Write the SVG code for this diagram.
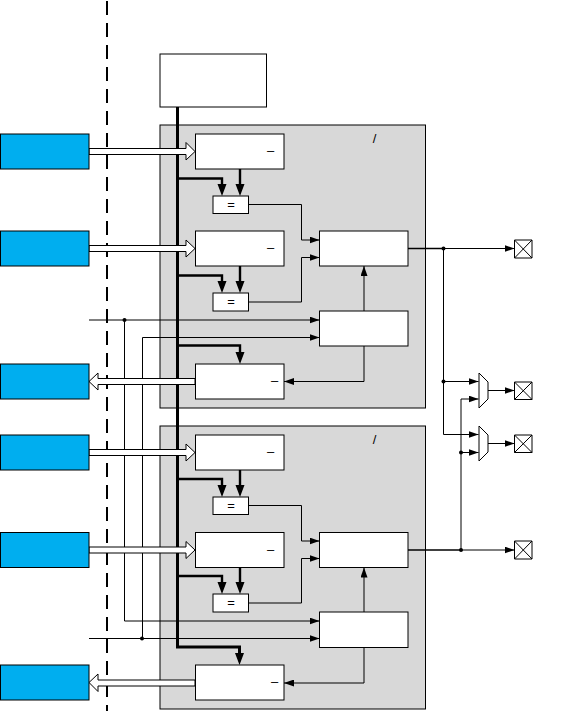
<svg xmlns="http://www.w3.org/2000/svg" width="576" height="711" viewBox="0 0 576 711">
<style>
.panel{fill:#d8d8d8;stroke:#000;stroke-width:1}
.box{fill:#fff;stroke:#000;stroke-width:1}
.blue{fill:#00aeef;stroke:#000;stroke-width:1}
.w{fill:none;stroke:#000;stroke-width:1}
.t{fill:none;stroke:#000;stroke-width:3}
.th{fill:none;stroke:#000;stroke-width:2.400}
.hollow{fill:#fff;stroke:#000;stroke-width:1}
.lbl{font-family:"Liberation Sans",Arial,sans-serif;font-size:13px;fill:#000;text-anchor:middle}
</style>
<defs>
<marker id="a" markerUnits="userSpaceOnUse" markerWidth="10" markerHeight="7" refX="10" refY="3.500" orient="auto"><path d="M0 0L10 3.500L0 7Z" fill="#000"/></marker>
</defs>
<g id="boundary"><line x1="107" y1="-21" x2="107" y2="711" stroke="#000" stroke-width="2" stroke-dasharray="14 8"/></g>
<g id="panel-1"><rect class="panel" x="160" y="125" width="265.500" height="283"/><text class="lbl" x="374.500" y="142.500">/</text></g>
<g id="panel-2"><rect class="panel" x="160" y="426" width="265.500" height="283"/><text class="lbl" x="374.500" y="444">/</text></g>
<g id="connectors">
<path class="t" d="M177.500 107V647H239.500V655"/>
<path class="th" d="M177.500 178.500H222V186M240 169V186M177.500 275.500H222V283M240 266V283M177.500 345.500H240V354M177.500 479H222V487M240 470V487M177.500 576H222V584M240 567.500V584"/>
<path fill="#000" d="M217.500 184h9l-4.500 12zM235.500 184h9l-4.500 12zM217.500 281h9l-4.500 12zM235.500 281h9l-4.500 12zM235.500 352h9l-4.500 12zM217.500 485h9l-4.500 12zM235.500 485h9l-4.500 12zM217.500 582h9l-4.500 12zM235.500 582h9l-4.500 12zM235 653h9l-4.500 12z"/>
<path class="w" marker-end="url(#a)" d="M248.500 204.500H301.500V240H319.500"/>
<path class="w" marker-end="url(#a)" d="M248.500 302H301.500V257.500H319.500"/>
<path class="w" marker-end="url(#a)" d="M248.500 505.500H301.500V541H319.500"/>
<path class="w" marker-end="url(#a)" d="M248.500 603H301.500V558.500H319.500"/>
<path class="w" marker-end="url(#a)" d="M89 320H319.500"/>
<path class="w" marker-end="url(#a)" d="M142.500 638V337.500H319.500"/>
<path class="w" marker-end="url(#a)" d="M124.500 320V621H319.500"/>
<path class="w" marker-end="url(#a)" d="M89 638.500H319.500"/>
<path class="w" marker-end="url(#a)" d="M364 311V266"/>
<path class="w" marker-end="url(#a)" d="M364 612V567.500"/>
<path class="w" marker-end="url(#a)" d="M364 346V381.500H284"/>
<path class="w" marker-end="url(#a)" d="M364 647.500V683H284"/>
<path class="hollow" d="M89 148.500H186V142.500L195 151.500L186 160V154.500H89Z"/>
<path class="hollow" d="M89 245.500H186V240L195 248.500L186 257V251.500H89Z"/>
<path class="hollow" d="M195 378.500H98V373L89 381.500L98 390V384.500H195Z"/>
<path class="hollow" d="M89 449.500H186V444L195 452.500L186 461V455.500H89Z"/>
<path class="hollow" d="M89 547H186V541.500L195 550L186 558.500V553H89Z"/>
<path class="hollow" d="M195 680H98V674L89 682.500L98 691.500V686H195Z"/>
<path class="w" marker-end="url(#a)" d="M408 248.500H514.500"/>
<path class="w" style="stroke-width:1.500" d="M408 248.500H443.500"/>
<path class="w" marker-end="url(#a)" d="M443.500 248.500V434.500H478.500"/>
<path class="w" marker-end="url(#a)" d="M443.500 381.500H478.500"/>
<path class="w" marker-end="url(#a)" d="M461 550V399H478.500"/>
<path class="w" marker-end="url(#a)" d="M461 452.500H478.500"/>
<path class="w" style="stroke-width:1.500" d="M408 550H461"/>
<path class="w" marker-end="url(#a)" d="M461 550H514.500"/>
<path class="w" marker-end="url(#a)" d="M488 390.500H514.500"/>
<path class="w" marker-end="url(#a)" d="M488 443.500H514.500"/>
<g fill="#000"><circle cx="124.500" cy="320" r="2"/><circle cx="142" cy="638.500" r="2"/><circle cx="443.500" cy="248.500" r="2"/><circle cx="443.500" cy="381.500" r="2"/><circle cx="461" cy="452.500" r="2"/><circle cx="461" cy="550" r="2"/></g>
</g>
<g id="ctrl"><rect class="box" x="160" y="54" width="106.500" height="53"/></g>
<g id="src-1"><rect class="blue" x="0.500" y="134" width="88.500" height="35"/></g>
<g id="src-2"><rect class="blue" x="0.500" y="231" width="88.500" height="35"/></g>
<g id="src-3"><rect class="blue" x="0.500" y="364" width="88.500" height="35"/></g>
<g id="src-4"><rect class="blue" x="0.500" y="435" width="88.500" height="35"/></g>
<g id="src-5"><rect class="blue" x="0.500" y="532.500" width="88.500" height="35"/></g>
<g id="src-6"><rect class="blue" x="0.500" y="665" width="88.500" height="35"/></g>
<g id="a1"><rect class="box" x="195.500" y="134" width="88.500" height="35"/><text class="lbl" x="270.500" y="155">–</text></g>
<g id="eq1"><rect class="box" x="213" y="196" width="35.500" height="17.500"/><text class="lbl" x="231" y="209">=</text></g>
<g id="a2"><rect class="box" x="195.500" y="231" width="88.500" height="35"/><text class="lbl" x="270.500" y="251.500">–</text></g>
<g id="eq2"><rect class="box" x="213" y="293" width="35.500" height="18"/><text class="lbl" x="231" y="306">=</text></g>
<g id="cmp1"><rect class="box" x="319.500" y="231" width="88.500" height="35"/></g>
<g id="mid1"><rect class="box" x="319.500" y="311" width="88.500" height="35"/></g>
<g id="c1"><rect class="box" x="195.500" y="364" width="88.500" height="35"/><text class="lbl" x="274.500" y="385">–</text></g>
<g id="a3"><rect class="box" x="195.500" y="435" width="88.500" height="35"/><text class="lbl" x="270.500" y="456">–</text></g>
<g id="eq3"><rect class="box" x="213" y="497" width="35.500" height="17.500"/><text class="lbl" x="231" y="510">=</text></g>
<g id="a4"><rect class="box" x="195.500" y="532.500" width="88.500" height="35"/><text class="lbl" x="270.500" y="553.500">–</text></g>
<g id="eq4"><rect class="box" x="213" y="594" width="35.500" height="18"/><text class="lbl" x="231" y="607">=</text></g>
<g id="cmp2"><rect class="box" x="319.500" y="532.500" width="88.500" height="35"/></g>
<g id="mid2"><rect class="box" x="319.500" y="612" width="88.500" height="35.500"/></g>
<g id="c2"><rect class="box" x="195.500" y="665" width="88.500" height="35"/><text class="lbl" x="274.500" y="686">–</text></g>
<g id="mux1"><path class="box" d="M479 373L488 382V399L479 408Z"/></g>
<g id="mux2"><path class="box" d="M479 426L488 435V452L479 461Z"/></g>
<g id="pad1"><path class="box" d="M514.500 240H532V258H514.500ZM514.500 240L532 258M532 240L514.500 258"/></g>
<g id="pad2"><path class="box" d="M514.500 382H532V399.500H514.500ZM514.500 382L532 399.500M532 382L514.500 399.500"/></g>
<g id="pad3"><path class="box" d="M514.500 435H532V452.500H514.500ZM514.500 435L532 452.500M532 435L514.500 452.500"/></g>
<g id="pad4"><path class="box" d="M514.500 541H532V559H514.500ZM514.500 541L532 559M532 541L514.500 559"/></g>
</svg>
